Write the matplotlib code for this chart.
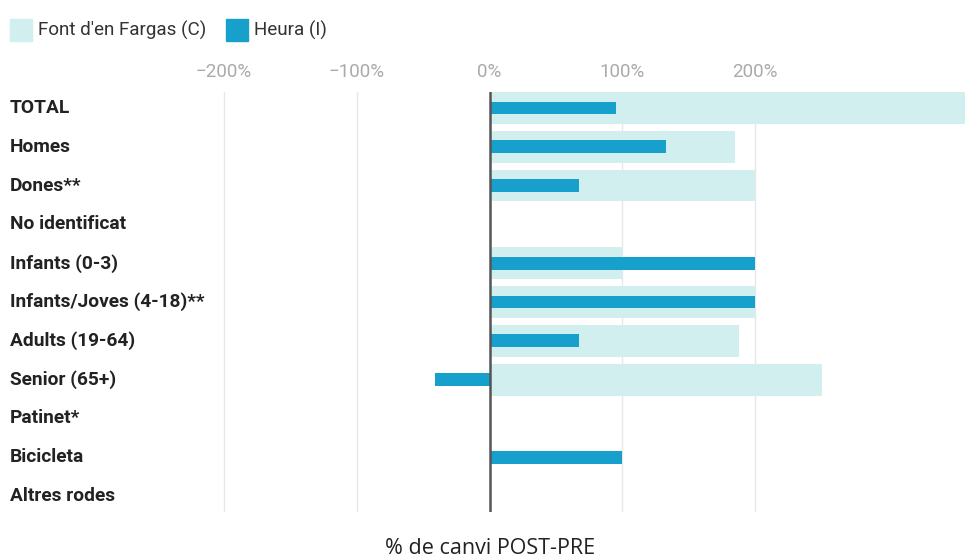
import numpy as np
import matplotlib.pyplot as plt
from matplotlib.patches import Rectangle
import matplotlib.transforms as mtransforms

plt.rcParams['font.family'] = ['Roboto', 'DejaVu Sans']

categories = ['TOTAL', 'Homes', 'Dones**', 'No identificat', 'Infants (0-3)',
              'Infants/Joves (4-18)**', 'Adults (19-64)', 'Senior (65+)',
              'Patinet*', 'Bicicleta', 'Altres rodes']
# % change POST-PRE (NaN = no data)
fargas = [400, 185, 200, np.nan, 100, 200, 188, 250, np.nan, np.nan, np.nan]
heura = [95, 133, 67, np.nan, 200, 200, 67, -41, np.nan, 100, np.nan]
ticks = [-200, -100, 0, 100, 200]

light = '#d0efee'
dark = '#18a0cc'

fig = plt.figure(figsize=(9.65, 5.59), dpi=100)
ax = fig.add_axes([190 / 965, 47 / 559, 775 / 965, 420 / 559])

y = np.arange(len(categories))
ax.barh(y, np.nan_to_num(fargas), height=0.82, color=light, zorder=2)
ax.barh(y, np.nan_to_num(heura), height=0.33, color=dark, zorder=3)

ax.set_xlim(-225.6, 357.9)
ax.set_ylim(len(categories) - 1 + 0.41, -0.41)

for t in ticks:
    if t != 0:
        ax.axvline(t, color='#e8e8e8', lw=1, zorder=1)
ax.axvline(0, color='#555555', lw=1.8, zorder=4)

ax.set_xticks(ticks)
ax.set_xticklabels([f'{t}%'.replace('-', '\u2212') for t in ticks])
ax.xaxis.tick_top()
ax.tick_params(axis='x', length=0, pad=8, labelsize=13.5, labelcolor='#aaaaaa')
ax.set_yticks([])
for s in ax.spines.values():
    s.set_visible(False)

trans = mtransforms.blended_transform_factory(fig.transFigure, ax.transData)
for i, c in enumerate(categories):
    ax.text(10 / 965, i, c, transform=trans, ha='left', va='center',
            fontsize=13.8, fontweight='bold', color='#222222')

# legend
for x0, col, lab in [(10, light, "Font d'en Fargas (C)"), (226, dark, 'Heura (I)')]:
    fig.patches.append(Rectangle((x0 / 965, (559 - 41) / 559), 22 / 965, 22 / 559,
                                 transform=fig.transFigure, color=col))
    fig.text((x0 + 28) / 965, (559 - 30) / 559, lab, ha='left', va='center',
             fontsize=13.6, color='#333333')

fig.text(490 / 965, 11 / 559, '% de canvi POST-PRE', ha='center', va='center',
         fontsize=15.5, color='#222222', family=['Open Sans', 'DejaVu Sans'])

fig.savefig('out.png', dpi=100)
